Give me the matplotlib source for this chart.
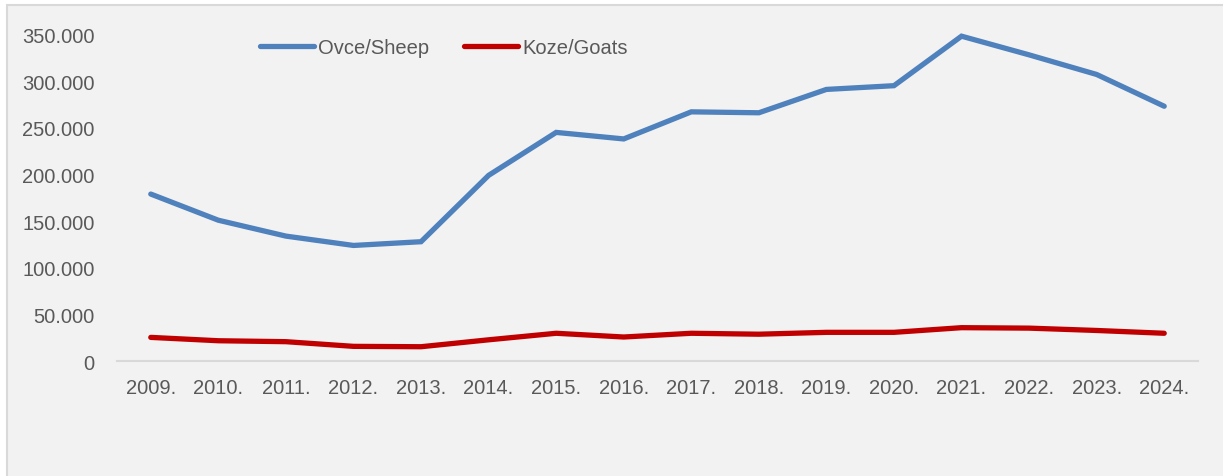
import matplotlib.pyplot as plt
from matplotlib.patches import Rectangle
from matplotlib.ticker import FuncFormatter

plt.rcParams['font.family'] = ['Liberation Sans', 'DejaVu Sans']

years = ["2009.", "2010.", "2011.", "2012.", "2013.", "2014.", "2015.", "2016.",
         "2017.", "2018.", "2019.", "2020.", "2021.", "2022.", "2023.", "2024."]
sheep = [179000, 151000, 134000, 124000, 128000, 199000, 245000, 238000,
         267000, 266000, 291000, 295000, 348000, 328000, 307000, 273000]
goats = [25600, 22000, 21000, 16000, 15600, 23000, 30000, 26000,
         30000, 29000, 31000, 31000, 36000, 35500, 33000, 30000]

W, H = 1223, 477
fig = plt.figure(figsize=(W / 100, H / 100), dpi=100)
fig.patch.set_facecolor("white")

# grey chart panel with thin border
panel = Rectangle((6.5 / W, -0.05), 1.1, (H - 5.5) / H + 0.05,
                  transform=fig.transFigure, facecolor="#f2f2f2",
                  edgecolor="#d9d9d9", linewidth=1.5, zorder=-10)
fig.patches.append(panel)

ax = fig.add_axes([117 / W, 1 - 362.3 / H, (1198 - 117) / W, (362.3 - 35.3) / H])
ax.set_facecolor("none")

x = range(len(years))
ax.plot(x, sheep, color="#4f81bd", lw=3.8, solid_capstyle="round",
        solid_joinstyle="miter", label="Ovce/Sheep", clip_on=False)
ax.plot(x, goats, color="#c00000", lw=3.8, solid_capstyle="round",
        solid_joinstyle="miter", label="Koze/Goats", clip_on=False)

ax.set_xlim(-0.5, len(years) - 0.5)
ax.set_ylim(0, 350000)
ax.set_xticks(list(x))
ax.set_xticklabels(years)
ax.set_yticks(range(0, 350001, 50000))
ax.yaxis.set_major_formatter(FuncFormatter(lambda v, p: f"{int(v):,}".replace(",", ".")))

for s in ["top", "right", "left"]:
    ax.spines[s].set_visible(False)
ax.spines["bottom"].set_color("#d9d9d9")
ax.spines["bottom"].set_linewidth(1.5)

ax.tick_params(axis="both", length=0, labelsize=14.5, labelcolor="#595959")
ax.tick_params(axis="x", pad=12)
ax.tick_params(axis="y", pad=16)

leg = fig.legend(loc="center left", bbox_to_anchor=(260 / W, 1 - 49 / H),
                 ncol=2, frameon=False, fontsize=14.5, handlelength=2.7,
                 handletextpad=0.2, columnspacing=1.7, borderpad=0,
                 borderaxespad=0)
for t in leg.get_texts():
    t.set_color("#595959")

fig.savefig("out.png", dpi=100)
